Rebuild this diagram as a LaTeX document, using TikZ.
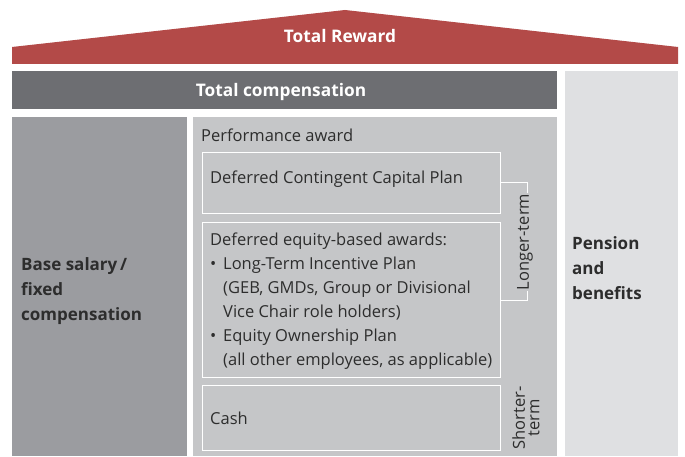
\documentclass[tikz,border=0pt]{standalone}
\usepackage{fontspec}
\setmainfont{Open Sans}
\definecolor{roofred}{RGB}{179,74,72}
\definecolor{darkbar}{RGB}{109,110,114}
\definecolor{basegrey}{RGB}{155,156,160}
\definecolor{perfgrey}{RGB}{197,198,200}
\definecolor{pengrey}{RGB}{223,224,226}
\definecolor{txt}{RGB}{45,45,45}
\tikzset{
  body/.style={font=\fontsize{16.5}{24}\selectfont, text=txt, inner sep=0pt},
  head/.style={font=\fontsize{17.3}{20}\selectfont\bfseries, text=white, inner sep=0pt},
  boldtxt/.style={font=\fontsize{17}{24.7}\selectfont\bfseries, text=txt, inner sep=0pt, align=left},
  planbox/.style={draw=white, line width=0.9pt, fill=perfgrey, inner sep=0pt},
}
\begin{document}
\begin{tikzpicture}[x=1pt,y=-1pt]
\useasboundingbox[fill=white] (0,0) rectangle (685,457);
% roof
\fill[roofred] (12,47) -- (345,10) -- (678,47) -- (678,64) -- (12,64) -- cycle;
\node[head, anchor=base] (tr) at (340,42.5) {Total Reward};
% total compensation bar
\fill[darkbar] (12,71) rectangle (557,109);
\node[head, anchor=base] (tc) at (281,97) {Total compensation};
% pension column
\fill[pengrey] (565,71) rectangle (678,456);
\node[boldtxt, anchor=west] (pen) at (572,268) {Pension\\and\\benefits};
% base salary column
\fill[basegrey] (12,117) rectangle (187,456);
\node[boldtxt, anchor=west] (base) at (21,291) {Base salary\,/\\fixed\\compensation};
% performance area
\fill[perfgrey] (193,117) rectangle (557,456);
\node[body, anchor=west] (pa) at (201,135) {Performance award};
\node[planbox, minimum width=298pt, minimum height=61pt, anchor=north west] (dccp) at (202,152) {};
\node[body, anchor=west] (dccpt) at (210,179) {Deferred Contingent Capital Plan};
\node[planbox, minimum width=298pt, minimum height=155pt, anchor=north west] (eq) at (202,222) {};
\node[body, anchor=west, align=left] (eqt) at (210,301) {Deferred equity-based awards:\\
\makebox[13pt][l]{\textbullet}Long-Term Incentive Plan\\
\hspace*{13pt}(GEB, GMDs, Group or Divisional\\
\hspace*{13pt}Vice Chair role holders)\\
\makebox[13pt][l]{\textbullet}Equity Ownership Plan\\
\hspace*{13pt}(all other employees, as applicable)};
\node[planbox, minimum width=298pt, minimum height=65pt, anchor=north west] (cash) at (202,385) {};
\node[body, anchor=west] (casht) at (210,418) {Cash};
% bracket
\draw[white, line width=0.9pt] (dccp.east) -- ++(27,0) |- (eq.east);
\node[body, fill=perfgrey, inner sep=1pt, rotate=90] (lt) at (525,242) {Longer-term};
\node[body, rotate=90, align=center, font=\fontsize{16.5}{14.5}\selectfont] (st) at (526,418) {Shorter-\\term};
\end{tikzpicture}
\end{document}
